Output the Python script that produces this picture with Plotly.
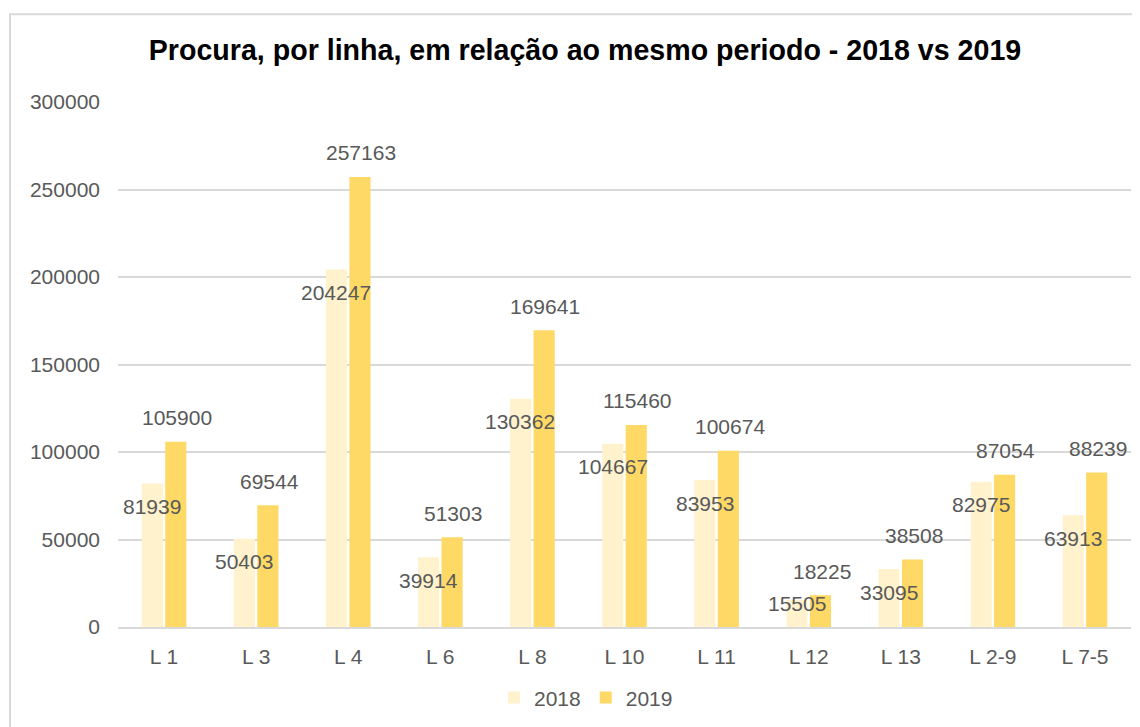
import plotly.graph_objects as go

categories = ["L 1", "L 3", "L 4", "L 6", "L 8", "L 10", "L 11", "L 12", "L 13", "L 2-9", "L 7-5"]
values_2018 = [81939, 50403, 204247, 39914, 130362, 104667, 83953, 15505, 33095, 82975, 63913]
values_2019 = [105900, 69544, 257163, 51303, 169641, 115460, 100674, 18225, 38508, 87054, 88239]
y_ticks = [0, 50000, 100000, 150000, 200000, 250000, 300000]

C2018 = "#FFF2CC"
C2019 = "#FFD966"
TXT = "#595959"
FONT = "Liberation Sans, Arial, sans-serif"

# page body has an 8px margin; compensate so positions match the reference
OFF = 8
W, H = 1140 - OFF, 727 - OFF
L, T = 118 - OFF, 102 - OFF
R = 9
B = H - (629 - OFF)
PW = W - L - R
PH = H - T - B

def px_x(p):
    return (p - OFF - L) / PW

def px_y(p):
    return (H - B - (p - OFF)) / PH

fig = go.Figure()
fig.add_trace(go.Bar(name="2018", x=categories, y=values_2018, marker=dict(color=C2018, line=dict(width=0))))
fig.add_trace(go.Bar(name="2019", x=categories, y=values_2019, marker=dict(color=C2019, line=dict(width=0))))

ann = []
px_per_unit = PH / 300000
for c, v in zip(categories, values_2018):
    hpx = v * px_per_unit
    ys = -23 if hpx > 40 else -4
    ann.append(dict(x=c, y=v, text=str(v), showarrow=False, xshift=-12, yshift=ys,
                    yanchor="middle", font=dict(family=FONT, size=21, color=TXT)))
for c, v in zip(categories, values_2019):
    ann.append(dict(x=c, y=v, text=str(v), showarrow=False, xshift=13, yshift=24,
                    yanchor="middle", font=dict(family=FONT, size=21, color=TXT)))

fig.update_layout(
    width=W, height=H,
    margin=dict(l=L, r=R, t=T, b=B),
    paper_bgcolor="white", plot_bgcolor="white",
    barmode="group", bargap=0.49, bargroupgap=0.1,
    title=dict(text="<b>Procura, por linha, em relação ao mesmo periodo - 2018 vs 2019</b>",
               x=(585 - OFF) / W, xanchor="center", y=1 - (50 - OFF) / H, yanchor="middle",
               font=dict(family="Liberation Sans, Arial, sans-serif", size=28.6, color="black")),
    xaxis=dict(showgrid=False, showline=True, linecolor="#D9D9D9", linewidth=2, ticks="",
               tickfont=dict(family=FONT, size=21, color=TXT), ticklabelstandoff=10),
    yaxis=dict(range=[0, 300000], tickvals=y_ticks, ticktext=[str(t) for t in y_ticks],
               showgrid=True, gridcolor="#D9D9D9", gridwidth=1.5, zeroline=False, showline=False,
               ticks="", tickfont=dict(family=FONT, size=21, color=TXT), ticklabelstandoff=17),
    legend=dict(orientation="h", x=px_x(586), xanchor="center", y=px_y(700), yanchor="middle",
                font=dict(family=FONT, size=21, color=TXT), traceorder="normal"),
    annotations=ann,
    shapes=[dict(type="rect", xref="paper", yref="paper",
                 x0=px_x(10), x1=px_x(1160), y0=px_y(760), y1=px_y(14),
                 line=dict(color="#D9D9D9", width=2), fillcolor="rgba(0,0,0,0)", layer="below")],
)

fig.write_html("out.html")
